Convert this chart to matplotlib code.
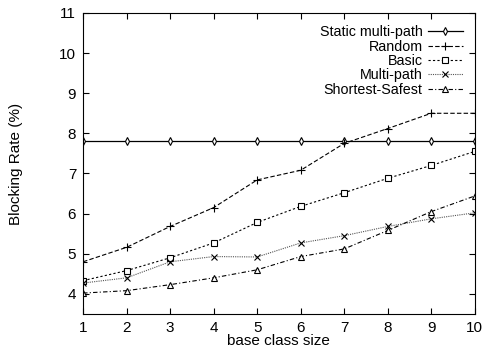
import numpy as np
import matplotlib
matplotlib.use("Agg")
from matplotlib import pyplot as plt

plt.rcParams['font.family'] = ['Liberation Sans', 'DejaVu Sans']

# base class size
x = [1, 2, 3, 4, 5, 6, 7, 8, 9, 10]

static_multipath = [7.8, 7.8, 7.8, 7.8, 7.8, 7.8, 7.8, 7.8, 7.8, 7.8]
random_ = [4.8, 5.16, 5.68, 6.15, 6.84, 7.08, 7.75, 8.12, 8.5, 8.5]
basic = [4.33, 4.58, 4.9, 5.27, 5.78, 6.18, 6.52, 6.88, 7.2, 7.55]
multipath = [4.27, 4.4, 4.8, 4.93, 4.92, 5.27, 5.45, 5.68, 5.87, 6.02]
shortest_safest = [4.02, 4.08, 4.23, 4.4, 4.6, 4.93, 5.12, 5.58, 6.05, 6.44]

fig = plt.figure(figsize=(4.83, 3.5), dpi=100)
ax = fig.add_axes([0.172, 0.103, 0.811, 0.86])

ax.plot(x, static_multipath, color='black', lw=0.9, ls='-', marker='d', ms=4,
        mfc='white', mec='black', mew=0.8, label='Static multi-path')
ax.plot(x, random_, color='black', lw=0.8, ls=(0, (4, 2)), marker='+', ms=6,
        mew=0.8, label='Random')
ax.plot(x, basic, color='black', lw=0.8, ls=(0, (2, 2)), marker='s', ms=5,
        mfc='white', mec='black', mew=0.8, label='Basic')
ax.plot(x, multipath, color='#555555', lw=0.8, ls=(0, (1, 1)), marker='x', ms=5,
        mec='black', mew=0.8, label='Multi-path')
ax.plot(x, shortest_safest, color='black', lw=0.8, ls=(0, (4, 2, 1, 2)), marker='^', ms=5,
        mfc='white', mec='black', mew=0.8, label='Shortest-Safest')

ax.set_xlim(1, 10)
ax.set_ylim(3.5, 11)
ax.set_xticks(x)
ax.set_yticks([4, 5, 6, 7, 8, 9, 10, 11])
ax.tick_params(direction='in', top=True, right=True, labelsize=11, length=4, pad=5)
ax.set_xlabel('base class size', fontsize=11, labelpad=-1)
ax.set_ylabel('Blocking Rate (%)', fontsize=11, labelpad=26)

leg = ax.legend(loc='upper right', frameon=False, markerfirst=False, fontsize=10.3,
                handlelength=2.4, labelspacing=0.03, borderaxespad=0.45, handletextpad=0.4)
for t in leg.get_texts():
    t.set_ha('right')
leg._legend_box.align = 'right'

fig.savefig('out.png', dpi=100)
